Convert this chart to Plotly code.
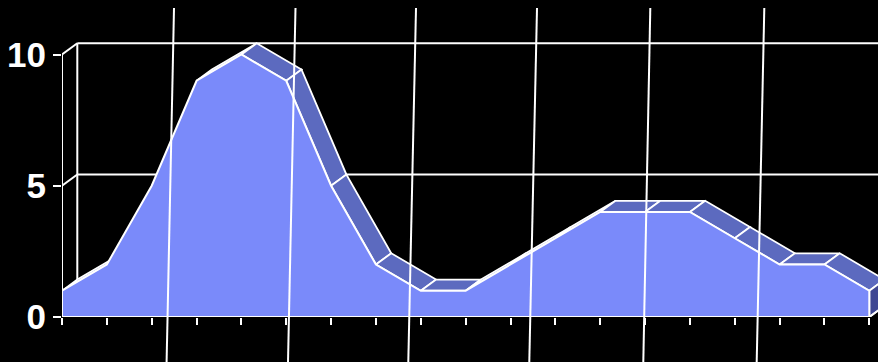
import plotly.graph_objects as go

# Series values, one per category along the floor
categories = list(range(19))
values = [1, 2, 5, 9, 10, 9, 5, 2, 1, 1, 2, 3, 4, 4, 4, 3, 2, 2, 1]
y_ticks = [0, 5, 10]
y_tick_labels = ["0", "5", "10"]

# Figure geometry (pixels)
W, H = 878, 362
ML, MB = 62, 45
PX_PER_CAT = 44.85
PX_PER_UNIT = 26.25
DEPTH_X_PX, DEPTH_Y_PX = 15.3, 11.2

plot_w = W - ML
plot_h = H - MB
x_max = plot_w / PX_PER_CAT
y_max = plot_h / PX_PER_UNIT
dx = DEPTH_X_PX / PX_PER_CAT
dy = DEPTH_Y_PX / PX_PER_UNIT

FRONT = "#7a8afa"
TOP = "#5c6abf"
SIDE = "#3f4792"
WHITE = "#ffffff"

# Perspective guide lines crossing the chart (pixel x at top and bottom)
guide_top_x = [174.0, 295.5, 416.0, 537.0, 650.3, 764.3]
guide_bot_x = [166.6, 288.0, 408.3, 529.3, 643.3, 756.7]
GUIDE_TOP_Y, GUIDE_BOT_Y = 8, 362

fig = go.Figure()


def line(xs, ys, width=2, color=WHITE):
    fig.add_trace(go.Scatter(x=xs, y=ys, mode="lines",
                             line=dict(color=color, width=width),
                             hoverinfo="skip", showlegend=False))


# Back wall: gridlines, left back edge and the diagonal connectors
for v in y_ticks:
    line([dx, x_max], [v + dy, v + dy])
    line([0, dx], [v, v + dy])
line([dx, dx], [dy, y_ticks[-1] + dy])

# Top faces of the ribbon (only those facing the viewer)
n = len(values)
for i in range(n - 1):
    v0, v1 = values[i], values[i + 1]
    slope_px = -(v1 - v0) * PX_PER_UNIT / PX_PER_CAT
    if slope_px <= -DEPTH_Y_PX / DEPTH_X_PX:
        continue
    xs = [categories[i], categories[i + 1], categories[i + 1] + dx, categories[i] + dx, categories[i]]
    ys = [v0, v1, v1 + dy, v0 + dy, v0]
    fig.add_trace(go.Scatter(x=xs, y=ys, mode="lines", fill="toself",
                             fillcolor=TOP, line=dict(color=WHITE, width=1.8),
                             hoverinfo="skip", showlegend=False))

# Right side face
last_x, last_v = categories[-1], values[-1]
fig.add_trace(go.Scatter(
    x=[last_x, last_x, last_x + dx, last_x + dx, last_x],
    y=[last_v, 0, dy, last_v + dy, last_v],
    mode="lines", fill="toself", fillcolor=SIDE,
    line=dict(color=WHITE, width=1.8), hoverinfo="skip", showlegend=False))

# Front face of the area
fig.add_trace(go.Scatter(
    x=categories + [categories[-1], categories[0], categories[0]],
    y=values + [0, 0, values[0]],
    mode="lines", fill="toself", fillcolor=FRONT,
    line=dict(color=WHITE, width=2), hoverinfo="skip", showlegend=False))

# Front axes
line([0, 0], [0, y_ticks[-1]])
line([0, categories[-1]], [0, 0])
line([categories[-1], categories[-1] + dx], [0, dy])

# Guide lines drawn in paper space
shapes = []
for xt, xb in zip(guide_top_x, guide_bot_x):
    shapes.append(dict(
        type="line", xref="paper", yref="paper",
        x0=(xt - ML) / plot_w, y0=(plot_h - GUIDE_TOP_Y) / plot_h,
        x1=(xb - ML) / plot_w, y1=(plot_h - GUIDE_BOT_Y) / plot_h,
        line=dict(color=WHITE, width=2), layer="above"))

fig.update_layout(
    width=W, height=H,
    margin=dict(l=ML, r=0, t=0, b=MB, pad=0),
    paper_bgcolor="#000000", plot_bgcolor="#000000",
    showlegend=False, shapes=shapes,
    xaxis=dict(range=[0, x_max], tickvals=categories, ticks="outside",
               ticklen=7, tickwidth=2, tickcolor=WHITE,
               showticklabels=False, showgrid=False, zeroline=False,
               showline=False, fixedrange=True),
    yaxis=dict(range=[0, y_max], tickvals=y_ticks, ticktext=y_tick_labels,
               ticks="outside", ticklen=8, tickwidth=2, tickcolor=WHITE,
               tickfont=dict(family="Liberation Sans, Arial, sans-serif",
                             size=35, color=WHITE, weight="bold"),
               showgrid=False, zeroline=False, showline=False,
               fixedrange=True),
)

fig.write_html("out.html", config={"displayModeBar": False})
